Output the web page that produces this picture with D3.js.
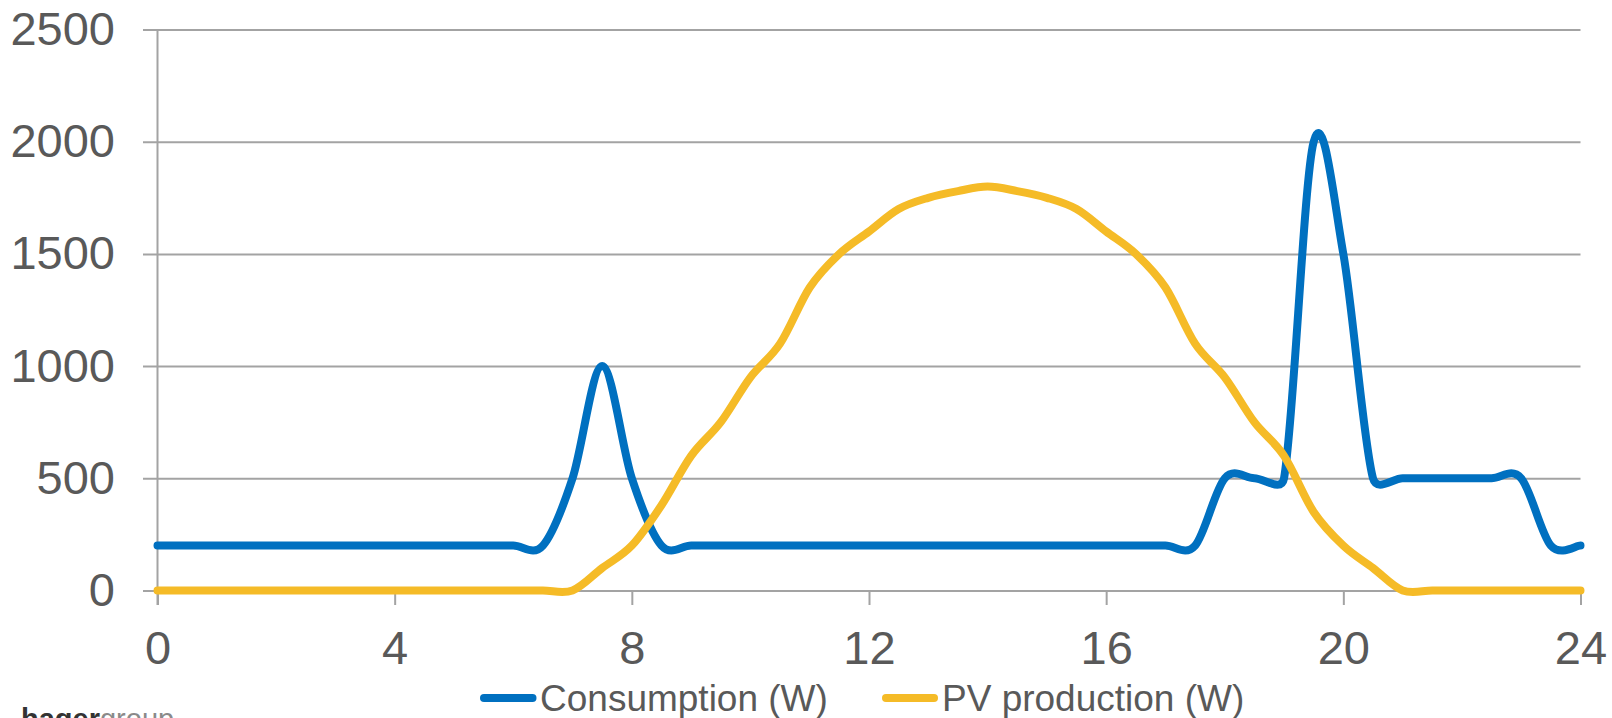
<!DOCTYPE html>
<html>
<head>
<meta charset="utf-8">
<script src="https://cdn.jsdelivr.net/npm/d3@7"></script>
<style>
  html, body { margin: 0; padding: 0; background: #ffffff; }
  svg { display: block; }
  text { font-family: "Liberation Sans", Arial, sans-serif; }
</style>
</head>
<body>
<svg id="chart" width="1612" height="718"></svg>
<script>
// ---- data ----
const hours = [0, 0.5, 1, 1.5, 2, 2.5, 3, 3.5, 4, 4.5, 5, 5.5, 6, 6.5, 7, 7.5, 8, 8.5, 9, 9.5,
  10, 10.5, 11, 11.5, 12, 12.5, 13, 13.5, 14, 14.5, 15, 15.5, 16, 16.5, 17, 17.5, 18, 18.5, 19, 19.5,
  20, 20.5, 21, 21.5, 22, 22.5, 23, 23.5, 24];
const consumption = [200, 200, 200, 200, 200, 200, 200, 200, 200, 200, 200, 200, 200, 200, 500, 1000, 500, 200, 200, 200,
  200, 200, 200, 200, 200, 200, 200, 200, 200, 200, 200, 200, 200, 200, 200, 200, 500, 500, 500, 2000,
  1500, 500, 500, 500, 500, 500, 500, 200, 200];
const pvProduction = [0, 0, 0, 0, 0, 0, 0, 0, 0, 0, 0, 0, 0, 0, 0, 100, 200, 380, 600, 750,
  950, 1100, 1350, 1500, 1600, 1700, 1750, 1780, 1800, 1780, 1750, 1700, 1600, 1500, 1350, 1100, 950, 750, 600, 350,
  200, 100, 0, 0, 0, 0, 0, 0, 0];
const seriesNames = ["Consumption (W)", "PV production (W)"];
const seriesColors = ["#0070C0", "#F5BB27"];
const xTicks = [0, 4, 8, 12, 16, 20, 24];
const yTicks = [0, 500, 1000, 1500, 2000, 2500];

// ---- spreadsheet-style smoothed curve for d3.line ----
function SmoothCurve(context) { this._context = context; }
SmoothCurve.prototype = {
  areaStart() { this._line = 0; },
  areaEnd() { this._line = NaN; },
  lineStart() { this._pts = []; },
  point(px, py) { this._pts.push([+px, +py]); },
  lineEnd() {
    const p = this._pts, n = p.length, c = this._context;
    if (!n) return;
    if (this._line === 0) c.lineTo(p[0][0], p[0][1]); else c.moveTo(p[0][0], p[0][1]);
    const dist = (a, b) => Math.hypot(b[0] - a[0], b[1] - a[1]);
    for (let i = 0; i < n - 1; i++) {
      const P0 = p[Math.max(i - 1, 0)], P1 = p[i], P2 = p[i + 1], P3 = p[Math.min(i + 2, n - 1)];
      const d12 = dist(P1, P2), d02 = dist(P0, P2), d13 = dist(P1, P3);
      const f1 = d02 > 0 ? (d02 / 6 < d12 / 2 ? 1 / 6 : d12 / (2 * d02)) : 0;
      const f2 = d13 > 0 ? (d13 / 6 < d12 / 2 ? 1 / 6 : d12 / (2 * d13)) : 0;
      c.bezierCurveTo(
        P1[0] + f1 * (P2[0] - P0[0]), P1[1] + f1 * (P2[1] - P0[1]),
        P2[0] - f2 * (P3[0] - P1[0]), P2[1] - f2 * (P3[1] - P1[1]),
        P2[0], P2[1]);
    }
  }
};
const smoothCurve = ctx => new SmoothCurve(ctx);

// ---- layout ----
const svg = d3.select("#chart");
const x = d3.scaleLinear().domain([0, 24]).range([157.5, 1580.5]);
const y = d3.scaleLinear().domain([0, 2500]).range([590.5, 29.5]);
const gridLeft = 143;
const textColor = "#595959";
const gridColor = "#A3A3A3";

// y axis with gridlines
const yAxis = svg.append("g")
  .attr("transform", `translate(${gridLeft},0)`)
  .call(d3.axisLeft(y).tickValues(yTicks).tickSize(-(x.range()[1] - gridLeft)).tickPadding(28).tickFormat(d3.format("d")));
yAxis.select(".domain").remove();
yAxis.selectAll(".tick line").attr("stroke", gridColor).attr("stroke-width", 2);
yAxis.selectAll(".tick text").attr("fill", textColor).style("font-size", "47px")
  .style("font-family", "'Liberation Sans', Arial, sans-serif");

// vertical axis line
svg.append("line")
  .attr("x1", x(0)).attr("x2", x(0))
  .attr("y1", y(2500)).attr("y2", y(0) + 14.5)
  .attr("stroke", gridColor).attr("stroke-width", 2);

// x axis
const xAxis = svg.append("g")
  .attr("transform", `translate(0,${y(0)})`)
  .call(d3.axisBottom(x).tickValues(xTicks).tickSize(14.5).tickPadding(26).tickFormat(d3.format("d")));
xAxis.select(".domain").remove();
xAxis.selectAll(".tick line").attr("stroke", gridColor).attr("stroke-width", 2);
xAxis.selectAll(".tick text").attr("fill", textColor).style("font-size", "47px")
  .style("font-family", "'Liberation Sans', Arial, sans-serif");

// lines
const series = [consumption, pvProduction];
const line = d3.line()
  .x((d, i) => x(hours[i]))
  .y(d => y(d))
  .curve(smoothCurve);

series.forEach((vals, k) => {
  svg.append("path")
    .datum(vals)
    .attr("fill", "none")
    .attr("stroke", seriesColors[k])
    .attr("stroke-width", 8)
    .attr("stroke-linejoin", "round")
    .attr("stroke-linecap", "round")
    .attr("d", line);
});

// legend
const legendItems = [
  { lx1: 480, lx2: 536.5, tx: 540 },
  { lx1: 882, lx2: 938, tx: 942 }
];
const legendY = 698;
legendItems.forEach((it, k) => {
  svg.append("line")
    .attr("x1", it.lx1 + 4).attr("x2", it.lx2 - 4)
    .attr("y1", legendY).attr("y2", legendY)
    .attr("stroke", seriesColors[k]).attr("stroke-width", 8)
    .attr("stroke-linecap", "round");
  svg.append("text")
    .attr("x", it.tx).attr("y", 710.5)
    .attr("fill", textColor)
    .style("font-size", "37px")
    .text(seriesNames[k]);
});

// logo text (partially cut at bottom, as in the reference)
const logo = svg.append("text").attr("x", 21).attr("y", 729).style("font-size", "29px");
logo.append("tspan").attr("font-weight", "bold").attr("fill", "#333333").text("hager");
logo.append("tspan").attr("font-weight", "normal").attr("fill", "#8a8a8a").text("group");
</script>
</body>
</html>
